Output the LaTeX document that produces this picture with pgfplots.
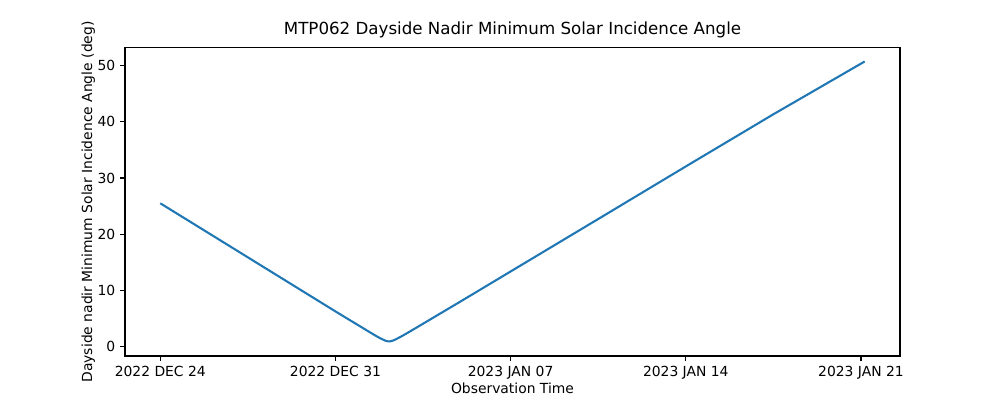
\documentclass[border=0pt]{standalone}
\usepackage{pgfplots}
\pgfplotsset{compat=1.18}
\usepackage{fontspec}
\setmainfont{DejaVu Sans}
\definecolor{mplblue}{HTML}{1F77B4}
\begin{document}
\begin{tikzpicture}
  \begin{axis}[
    at={(0,0)}, anchor=south west,
    scale only axis,
    width=558pt, height=221.8pt,
    xmin=-1.41, xmax=29.56,
    ymin=-1.69, ymax=53.16,
    xtick={0,7,14,21,28},
    xticklabels={2022 DEC 24,2022 DEC 31,2023 JAN 07,2023 JAN 14,2023 JAN 21},
    ytick={0,10,20,30,40,50},
    tick align=outside,
    tick pos=left,
    major tick length=3.5pt,
    axis line style={line width=0.8pt},
    every tick/.style={black, line width=0.8pt},
    /pgf/number format/assume math mode=true,
    tick label style={font=\fontsize{10}{12}\selectfont},
    label style={font=\fontsize{10}{12}\selectfont},
    xlabel={Observation Time},
    ylabel={Dayside nadir Minimum Solar Incidence Angle (deg)},
    xlabel style={yshift=4pt},
    ylabel style={yshift=-5pt},
    title={MTP062 Dayside Nadir Minimum Solar Incidence Angle},
    title style={font=\fontsize{12}{14}\selectfont, yshift=-2pt},
  ]
    \addplot[mplblue, line width=1.5pt, line join=round] coordinates {
      (0,25.5) (2,20.0) (4,14.5) (6,9.0) (7,6.25) (8,3.55) (8.4,2.47)
      (8.6,1.94) (8.8,1.44) (9.0,1.03) (9.1,0.92) (9.2,0.93) (9.3,1.06)
      (9.4,1.25) (9.6,1.72) (9.8,2.22) (10.0,2.74) (10.4,3.79) (11,5.38)
      (12,8.02) (14,13.36) (17.5,22.7) (21,32.06) (24.5,41.35) (28.15,50.75)
    };
  \end{axis}
  \useasboundingbox (-90pt,-31.68pt) rectangle (630pt,256.32pt);
\end{tikzpicture}
\end{document}
